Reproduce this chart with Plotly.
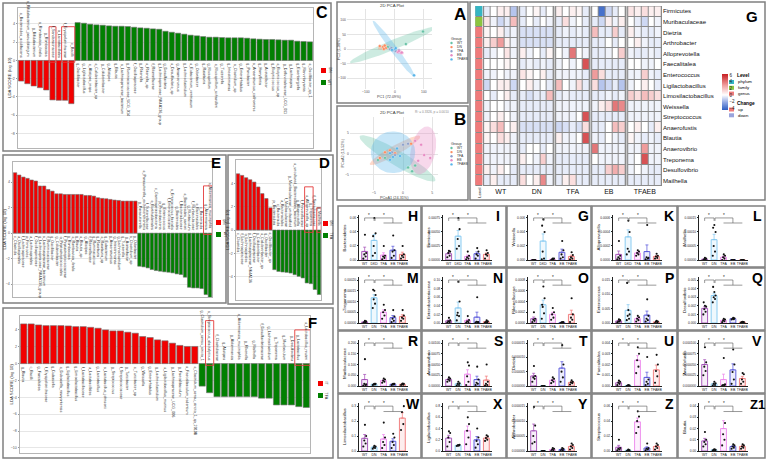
import numpy as np
import plotly.graph_objects as go

W, H = 767, 461
FONT = "Arial"

# ======================= DATA =======================
# ---- LEfSe panel C ----
C_red_vals = [-2.26, -2.55, -2.80, -2.99, -3.24, -4.33, -4.37, -4.37, -4.74]
C_red_labels = ["s_Bacteroides_acidifaciens", "s_Bifidobacterium_pseudolongum", "g_Bifidobacterium",
                "s_Romboutsia_ilealis", "g_Romboutsia", "f_Sandaracinaceae", "o_Lactobacillales",
                "f_Erysipelotrichaceae", "c_Bacilli"]
C_green_vals = [4.15, 4.08, 3.97, 3.90, 3.86, 3.79, 3.75, 3.75, 3.72, 3.64,
                3.57, 3.53, 3.46, 3.42, 3.20, 3.09, 2.99, 2.88, 2.77, 2.70,
                2.62, 2.55, 2.55, 2.51, 2.48, 2.48, 2.48, 2.44, 2.37, 2.33,
                2.30, 2.30, 2.26, 2.22, 2.22, 2.11, 2.08, 2.04]
C_green_labels = ["g_Oscillibacter", "g_Ligilactobacillus", "s_Alistipes_inops", "s_Colidextribacter_sp",
                  "g_Colidextribacter", "g_Alistipes", "g_Blautia", "s_Lachnospiraceae_bacterium",
                  "g_Ruminococcaceae_UCG_014", "f_Oscillospiraceae", "g_Rikenella", "s_Rikenella_sp",
                  "f_Rikenellaceae", "g_Lachnospiraceae_NK4A136_group", "g_Desulfovibrio", "s_Desulfovibrio_sp",
                  "g_Anaerotruncus", "g_Lachnoclostridium", "s_Eubacterium_ventriosum", "g_Odoribacter",
                  "g_Roseburia", "g_Mucispirillum", "s_Mucispirillum_schaedleri", "g_Tuzzerella",
                  "g_Intestinimonas", "s_Clostridium_sp", "g_Enterorhabdus", "g_Parvibacter",
                  "s_Anaerotruncus_colihominis", "g_Harryflintia", "g_Acetatifactor", "g_Butyricicoccus",
                  "s_Butyricicoccus_sp", "g_Defluviitaleaceae_UCG_011", "g_Lachnospira", "g_Eisenbergiella",
                  "g_Marvinbryantia", "s_Oscillibacter_sp_1"]

# ---- LEfSe panel E ----
E_red_vals = [4.73, 4.55, 4.39, 4.29, 4.16, 4.08, 3.69, 3.69, 3.42, 3.29,
              3.08, 3.08, 3.03, 3.03, 3.03, 3.03, 3.03, 2.95, 2.95, 2.90,
              2.77, 2.72, 2.69, 2.64, 2.59, 2.56, 2.51, 2.51, 2.51, 2.51]
E_red_labels = ["c_Clostridia", "o_Oscillospirales", "f_Lachnospiraceae", "p_Firmicutes", "o_Lachnospirales",
                "f_Oscillospiraceae", "g_Lachnospiraceae_NK4A136_group", "s_Lachnospiraceae_bacterium",
                "f_Ruminococcaceae", "g_Oscillibacter", "g_Colidextribacter", "o_Peptostreptococcales",
                "f_Peptostreptococcaceae", "g_Romboutsia", "s_Romboutsia_ilealis", "g_Blautia", "s_Blautia_sp",
                "g_Alistipes", "f_Rikenellaceae", "g_Ruminococcus", "g_Roseburia", "s_Roseburia_sp",
                "g_Eubacterium", "g_Anaerotruncus", "g_Intestinimonas", "g_Lachnoclostridium", "g_Tuzzerella",
                "g_Acetatifactor", "s_Clostridium_sp", "g_Odoribacter"]
E_green_vals = [-2.59, -2.64, -2.72, -2.85, -2.93, -2.98, -3.03, -3.06, -3.11, -3.19,
                -3.24, -3.45, -4.24, -4.29, -4.29, -4.34, -4.81, -5.02]
E_green_labels = ["g_Parasutterella", "s_Parasutterella_excrementihominis", "f_Sutterellaceae",
                  "o_Burkholderiales", "c_Gammaproteobacteria", "p_Proteobacteria", "g_Enterococcus",
                  "f_Enterococcaceae", "s_Enterococcus_faecalis", "g_Bacteroides", "f_Bacteroidaceae",
                  "s_Bacteroides_sartorii", "g_Muribaculum", "f_Muribaculaceae", "o_Bacteroidales",
                  "c_Bacteroidia", "g_Akkermansia", "s_Akkermansia_muciniphila"]

# ---- LEfSe panel D ----
D_red_vals = [4.82, 4.68, 4.48, 4.31, 4.11, 3.69, 3.12, 2.70, 1.90]
D_red_labels = ["c_Clostridia", "f_Lachnospiraceae", "o_Lachnospirales", "g_Lachnospiraceae_NK4A136",
                "f_Oscillospiraceae", "g_Colidextribacter", "s_Colidextribacter_sp", "g_Oscillibacter",
                "s_Oscillibacter_sp"]
D_green_vals = [-3.40, -3.55, -3.60, -3.63, -3.69, -3.83, -3.97, -4.11, -4.54, -4.60, -5.10, -5.53]
D_green_labels = ["p_Bacteroidota", "c_Bacteroidia", "o_Bacteroidales", "f_Muribaculaceae",
                  "g_Muribaculaceae_unclassified", "s_uncultured_Bacteroidales_bacterium", "g_Alloprevotella",
                  "f_Prevotellaceae", "s_Alloprevotella_sp", "g_Treponema", "f_Spirochaetaceae", "g_Mailhella"]

# ---- LEfSe panel F ----
F_red_vals = [4.71, 4.71, 4.59, 4.51, 4.51, 4.51, 4.47, 4.39, 4.39, 4.31,
              4.20, 4.00, 3.88, 3.88, 3.73, 3.61, 3.22, 3.10, 2.82, 2.71,
              2.43, 2.16, 2.04, 2.04]
F_red_labels = ["g_Blautia", "c_Bacilli", "g_Faecalitalea", "f_Erysipelotrichaceae", "g_Dubosiella",
                "s_Dubosiella_newyorkensis", "g_Ligilactobacillus", "g_Limosilactobacillus", "f_Lactobacillaceae",
                "o_Lactobacillales", "g_Lactobacillus", "s_Lactobacillus_johnsonii", "g_Streptococcus",
                "f_Streptococcaceae", "g_Turicibacter", "s_Turicibacter_sp", "g_Weissella", "g_Enterorhabdus",
                "g_Lachnoclostridium", "s_Ligilactobacillus_murinus", "g_Lachnospiraceae_UCG_006",
                "g_Faecalibaculum", "s_Faecalibaculum_rodentium", "s_Clostridium_sensu_stricto_1_sp_2010B"]
F_green_vals = [-2.67, -3.45, -3.92, -3.92, -3.92, -3.92, -3.92, -3.92, -4.10, -4.10,
                -4.90, -4.90, -4.90, -5.10, -5.20]
F_green_labels = ["g_Clostridium_sensu_stricto_1", "s_Streptococcus_alactolyticus", "f_Clostridiaceae",
                  "g_Alistipes", "g_Akkermansia", "s_Akkermansia_muciniphila", "g_Rikenella", "g_Mailhella",
                  "f_Desulfovibrionaceae", "g_Lachnoclostridium", "g_Treponema", "g_Muribaculum",
                  "g_Desulfovibrio", "g_Lactobacillus", "s_Lactobacillus_reuteri"]

# ---- PCA panels ----
PCA_groups = ["WT", "DN", "TFA", "EB", "TFAEB"]
PCA_colors = ["#66C2A5", "#FC8D62", "#8DA0CB", "#E78AC3", "#56B4E9"]
A_x = [[97, 38, -10, -24, 3], [-52, -41, -31, -35, -38], [-17, -7, 3, 14, -12], [10, 21, 14, 24], [66, 0, -10, 3]]
A_y = [[60, 17, 3, 7, -3], [10, 7, 3, 12, 0], [0, -3, -7, -3, 3], [-10, -13, -7, -12], [-90, 0, -3, 3]]
# ellipse: centre, major half-axis vector, minor half-axis vector (data units)
A_ell_c = [(-8.6, 13.3), (-38, 7), (-7, 0), (17, -10), (-3.4, 0)]
A_ell_a = [(146.5, 60), (20.7, 6.7), (17, -6.7), (13.8, -6.7), (72.4, -96.7)]
A_ell_b = [(6.7, -15.3), (2.4, -6.7), (2.8, 6.7), (3.4, 6.7), (9.8, 6.8)]
B_x = [[2.07, 1.55, 0.86, -4.3, -3.1], [1.38, -3.1, -2.24, -1.38, -3.97], [0, 0.86, -1.38, -1.9],
       [3.1, 3.62, 2.59, 4.66, 2.07], [-2.24, -1.72, -0.52, -2.24, -1.03]]
B_y = [[-2.73, -4.09, -3.18, -1.4, -0.9], [2.5, 0.45, 0.91, 0.23, -0.91], [2.27, 2.5, -0.23, 0.45],
       [2.27, -0.23, -1.59, -0.9, 3.18], [0.23, -0.68, -0.45, -1.36, 1.36]]
B_ell_c = [(-0.95, -1.02), (-1.38, 0.9), None, (3.45, 0.9), (-1.72, 0.45)]
B_ell_a = [(6.47, -5.34), (4.31, 3.41), None, (0.86, 5.7), (3.8, 0)]
B_ell_b = [(-0.73, -1.54), (0.44, -0.97), None, (2.07, -0.55), (0, 5.0)]

# ---- Heatmap G ----
HM_rows = ["Firmicutes", "Muribaculaceae", "Dietzia", "Arthrobacter", "Alloprevotella", "Faecalitalea",
           "Enterococcus", "Ligilactobacillus", "Limosilactobacillus", "Weissella", "Streptococcus",
           "Anaerofustis", "Blautia", "Anaerovibrio", "Treponema", "Desulfovibrio", "Mailhella"]
HM_level = ["phylum", "family"] + ["genus"] * 15
HM_groups = ["WT", "DN", "TFA", "EB", "TFAEB"]
HM_values = [
    [-0.5, 0, 0.5, 0.5, -1.5, -0.5, 0, 0.3, -0.5, 0, 0.5, 0, 0.5, 0.3, -0.5, 0, -4, -1, -0.5, 0, 0.8, 0.5, 1, 0.5, 0.5],
    [0.8, -0.3, -1, -0.5, 2, -0.5, 0, -0.5, 0, -0.3, -0.5, 1, -0.3, 0, -0.5, -0.5, -1, 0.5, -0.3, 0.5, 0, -0.5, -1, 0, -0.3],
    [0.3, 0, 0.5, -0.5, -0.3, -0.8, -0.8, -0.8, -0.8, -0.8, -0.5, -0.3, -0.5, -0.3, -0.5, 2, -0.5, -0.5, 1.5, -0.5, 0.5, -0.3, -0.5, -0.5, -0.3],
    [0.5, 1.5, 3, 0.5, -0.3, -0.8, -0.8, -0.8, -0.8, -0.8, -0.5, -0.5, -0.5, -0.5, -0.5, -0.5, -0.5, 0, -0.5, 0, 0, 0.5, -0.3, -0.5, -0.5],
    [-0.5, -0.3, 0, 0.8, -0.3, 0.5, -0.3, 0, -0.5, 0.3, 0, -0.3, 4, 0, -0.3, -0.5, -0.5, -0.3, 0, 1.5, -0.3, -0.5, -0.5, -0.3, -0.5],
    [0, 0, 0, 0.3, 0, -0.5, -0.3, -0.5, -0.3, -0.5, -0.3, 0, -0.3, 0, 5, -0.5, -0.5, -0.5, -0.5, -0.5, 0, 0, -0.3, -0.3, 0],
    [-0.3, -0.3, 0, -0.3, -0.3, 0.8, 0.3, 0, 0.5, -0.5, -0.3, -0.3, -0.3, -0.3, -0.5, 3, 1, -0.5, -0.5, -0.5, -0.3, -0.3, 1.5, -0.3, -0.5],
    [-1, 0, 0.5, 0.5, -1, 0, 0.5, -0.3, 0, -0.5, 2, 0, -0.3, 1, -0.5, 1, -1.5, -1, -0.5, -1.5, -0.3, 0, 0.5, 0, -0.5],
    [0, -0.5, 0, 0.5, -0.5, -0.5, -0.8, -0.5, -0.5, 2, -0.5, -0.3, -0.5, -0.5, -0.5, -0.5, -0.5, -0.3, -0.5, -0.3, 1.5, 1, 2, 1.5, 1],
    [-0.3, 0, 0, -0.3, -0.3, -0.5, -0.5, -0.5, -0.5, -0.5, -0.3, -0.3, -0.3, -0.3, -0.3, -0.3, 0.5, 1, 4, 3.5, -0.3, -0.3, -0.3, -0.3, -0.3],
    [-0.3, 0, 0.5, 0, -0.3, -0.5, -0.5, -0.5, -0.5, -0.5, -0.3, -0.3, -0.3, 0, 5, -0.5, -0.5, -0.5, -0.5, -0.5, -0.3, -0.3, -0.3, -0.3, -0.3],
    [0.3, 1, 2, 0, 0.5, -0.8, -0.8, -0.8, -0.8, -0.8, -1, -0.8, -0.5, -0.8, 1, -0.5, -0.5, 0, 2, 1.5, 0, 0.5, 0, -0.5, 0.5],
    [0.3, 0, 1, 0.5, -0.3, -0.5, -0.5, -0.5, -0.5, -0.5, 0.5, -0.3, -0.3, 0, 5, -0.3, -0.5, 0, -0.3, -0.5, 0.3, -0.3, -0.5, -0.3, -0.5],
    [-0.3, -0.3, -0.3, -0.3, -0.3, -0.5, 0, 0, -0.5, 0, -0.3, -0.3, -0.3, -0.3, -0.3, 4, -0.3, -0.3, -0.3, -0.3, -0.3, -0.3, 3, -0.3, -0.3],
    [-0.3, -0.3, -0.3, -0.3, -0.3, 0.5, 0, -0.3, 1.5, -0.3, -0.5, -0.5, -0.5, -0.5, -0.5, 0, -0.3, -0.3, -0.3, -0.3, -0.3, 0, 5, -0.3, -0.3],
    [0.5, -0.3, 0.5, 0, -0.5, -0.5, -0.5, -0.5, -0.5, -0.5, -0.5, -0.5, -0.5, -0.5, -0.5, -0.5, -0.5, 1.5, 2.5, 1.5, -0.3, 0, -0.3, -0.5, -0.5],
    [-0.5, 0.5, -0.5, -0.5, -0.5, 1, 0, 0.5, 3.5, -0.3, -0.5, 0.5, 1, -0.5, -0.5, -0.5, -0.5, -0.5, -0.5, -0.5, -0.5, -0.5, -0.5, -0.5, -0.5],
]

# ---- small bar panels (points in units of the panel tick step) ----
GROUPS_DKD = ["WT", "DKD", "TFA", "EB", "TFAEB"]
GROUPS_DN = ["WT", "DN", "TFA", "EB", "TFAEB"]
H_pts = [[0.1, 0.25, 0.4, 0.5, 1.8], [0.3, 0.5, 1.0, 1.9, 3.0, 1.7], [0.05, 0.15, 0.25, 0.3, 1.0], [0.15, 0.3, 0.6, 0.7, 1.75], [0.1, 0.2, 0.3, 0.4, 1.0]]
I_pts = [[0.2, 0.3, 0.5, 0.6, 0.65], [0.8, 1.0, 1.5, 2.2, 3.0], [0.05, 0.1, 0.2, 0.3, 0.6], [0.1, 0.3, 0.4, 0.6, 0.85], [0.1, 0.3, 0.4, 0.5, 0.7]]
Gw_pts = [[0, 0, 0, 0, 0], [0.05, 0.1, 0.6, 2.0, 2.9, 2.45], [0, 0, 0.05, 0.1, 0.1], [0.1, 0.2, 0.4, 0.7, 1.35], [0.05, 0.1, 0.2, 0.35, 0.55]]
K_pts = [[0.05, 0.1, 0.2, 0.3, 1.35], [0.4, 0.6, 0.8, 2.0, 2.8, 3.3], [0.3, 0.4, 0.5, 0.6, 0.7], [0.05, 0.1, 0.2, 0.15, 2.5], [0.1, 0.15, 0.25, 0.3, 0.45]]
L_pts = [[0, 0, 0.05, 0.1, 0.15], [0.3, 0.6, 1.0, 2.0, 2.5, 2.3], [0, 0.1, 0.2, 0.3, 0.4], [0, 0, 0, 0, 0], [0, 0, 0, 0, 0]]
M_pts = [[0, 0.05, 0.1, 0.15, 0.2], [1.4, 1.8, 2.2, 2.6, 3.0, 3.1], [0.4, 0.7, 1.0, 1.2, 1.7], [0.1, 0.2, 0.4, 0.6, 1.2], [0.2, 0.4, 0.5, 0.7, 1.2]]
N_pts = [[0.05, 0.1, 0.2, 0.3, 0.6], [0.3, 0.8, 1.2, 2.5, 4.8, 0.9], [0.05, 0.1, 0.2, 0.35, 0.8], [0.05, 0.1, 0.15, 0.1, 3.0], [0.05, 0.1, 0.1, 0.2, 0.3]]
O_pts = [[0.1, 0.2, 0.3, 0.4, 1.0], [0.4, 0.9, 1.5, 2.3, 3.4, 1.7], [0.3, 0.5, 0.8, 1.0, 1.4], [0, 0, 0.05, 0.1, 0.1], [0.1, 0.3, 0.5, 0.8, 2.3]]
P_pts = [[0.05, 0.1, 0.1, 0.2, 0.25], [0.2, 0.3, 0.5, 0.6, 0.9, 2.8], [0.1, 0.2, 0.3, 0.4, 0.5], [0.1, 0.2, 0.3, 0.5, 1.65], [0, 0.05, 0.1, 0.1, 0.15]]
Q_pts = [[1.0, 1.3, 1.6, 1.9, 2.0, 2.4], [2.4, 2.8, 3.0, 3.2, 3.6, 4.2], [0.1, 0.2, 0.3, 0.4, 0.5], [0.4, 0.45, 0.5, 0.55, 0.6], [0.05, 0.1, 0.1, 0.1, 0.15]]
R_pts = [[0.05, 0.1, 0.2, 0.15, 2.5], [0.1, 0.15, 0.15, 0.2, 0.2], [0.3, 0.4, 0.5, 0.6, 0.7], [0.1, 0.15, 0.15, 0.2, 0.2], [0.1, 0.12, 0.16, 0.2, 0.22]]
S_pts = [[0.4, 0.5, 0.6, 0.7, 0.8], [0.05, 0.1, 0.2, 0.25, 0.4], [0.1, 0.4, 0.9, 1.9, 2.2], [0.1, 0.2, 0.3, 0.6, 1.8], [0.05, 0.1, 0.2, 0.4, 2.0]]
T_pts = [[0.3, 0.5, 0.6, 0.7, 1.4], [0, 0, 0, 0, 0], [0.2, 0.3, 0.4, 0.5, 0.6], [0.3, 0.6, 1.0, 1.5, 2.85], [0.1, 0.2, 0.25, 0.3, 0.4]]
U_pts = [[0.1, 0.2, 0.3, 0.4, 0.5], [0, 0.05, 0.05, 0.05, 0.1], [1.2, 1.8, 2.4, 3.0, 3.6], [0.1, 0.2, 0.4, 0.6, 2.7], [0.3, 0.9, 1.4, 2.0, 2.9]]
V_pts = [[1.0, 1.4, 1.8, 2.2, 3.6], [0.05, 0.1, 0.2, 0.25, 0.4], [0.05, 0.1, 0.1, 0.15, 2.6], [0.2, 0.6, 1.3, 2.0, 3.4], [0.2, 0.4, 0.6, 1.1, 1.2]]
Wl_pts = [[0.3, 0.5, 0.7, 1.0, 1.75], [0.15, 0.2, 0.25, 0.3, 0.35], [0.2, 0.4, 0.6, 0.9, 1.9], [0.2, 0.4, 0.6, 0.9, 1.15], [1.4, 1.8, 2.6, 3.0]]
X_pts = [[0.4, 0.8, 1.2, 1.6, 1.75], [0.45, 0.5, 0.5, 0.55, 0.5], [0.6, 1.2, 1.8, 2.4, 3.0], [0.3, 0.6, 0.9, 1.2, 2.0], [0.9, 1.0, 1.15, 1.3, 1.4]]
Y_pts = [[0.5, 0.6, 1.0, 1.7, 2.95], [0, 0, 0, 0, 0], [0, 0.05, 0.1, 0.15, 0.2], [0, 0.05, 0.1, 0.15, 0.2], [0.1, 0.2, 0.3, 0.4, 0.5]]
Z_pts = [[0.05, 0.1, 0.15, 0.2, 0.75], [0, 0.05, 0.05, 0.05, 0.1], [1.2, 1.6, 2.0, 2.3, 2.65], [0.05, 0.1, 0.15, 0.2, 0.5], [0.1, 0.2, 0.3, 0.4, 0.5]]
Z1_pts = [[0.4, 0.6, 0.8, 1.0, 1.7], [0.05, 0.1, 0.1, 0.1, 0.15], [0.5, 1.0, 1.5, 2.5, 4.5], [0.2, 0.3, 0.4, 0.5, 0.6], [0.2, 0.3, 0.4, 0.5, 0.6]]

# (letter, y label, x labels, tick step, n ticks, decimals, points) in grid order
SMALL = [
    ("H", "Bacteroidetes", GROUPS_DKD, 0.02, 3, 2, H_pts),
    ("I", "Firmicutes", GROUPS_DKD, 0.00025, 3, 5, I_pts),
    ("G", "Weissella", GROUPS_DKD, 0.002, 3, 3, Gw_pts),
    ("K", "Alloprevotella", GROUPS_DKD, 0.0002, 3, 4, K_pts),
    ("L", "Mailhella", GROUPS_DN, 0.00005, 3, 5, L_pts),
    ("M", "Treponema", GROUPS_DN, 0.00005, 4, 5, M_pts),
    ("N", "Enterobacteriaceae", GROUPS_DN, 0.02, 5, 2, N_pts),
    ("O", "Rikenellaceae", GROUPS_DN, 0.0002, 4, 4, O_pts),
    ("P", "Enterococcus", GROUPS_DN, 0.005, 3, 3, P_pts),
    ("Q", "Desulfovibrio", GROUPS_DN, 0.001, 5, 3, Q_pts),
    ("R", "Muribaculaceae", GROUPS_DN, 0.05, 4, 3, R_pts),
    ("S", "Anaerovibrio", GROUPS_DN, 0.00025, 4, 5, S_pts),
    ("T", "Dietzia", GROUPS_DN, 0.000005, 3, 6, T_pts),
    ("U", "Faecalitalea", GROUPS_DN, 0.001, 4, 3, U_pts),
    ("V", "Anaerofustis", GROUPS_DN, 0.000025, 4, 6, V_pts),
    ("W", "Limosilactobacillus", GROUPS_DN, 0.1, 3, 1, Wl_pts),
    ("X", "Ligilactobacillus", GROUPS_DN, 0.2, 4, 1, X_pts),
    ("Y", "Arthrobacter", GROUPS_DN, 0.000005, 3, 6, Y_pts),
    ("Z", "Streptococcus", GROUPS_DN, 0.02, 3, 2, Z_pts),
    ("Z1", "Blautia", GROUPS_DN, 0.01, 4, 2, Z1_pts),
]
BAR_EDGE = ["#A24BB6", "#7EC6F0", "#EC84EC", "#5150DA", "#F07474"]
BAR_FILL = ["rgba(162,75,182,0.10)", "rgba(126,198,240,0.12)", "rgba(236,132,236,0.12)",
            "rgba(81,80,218,0.10)", "rgba(240,116,116,0.12)"]

# ======================= BUILD =======================
fig = go.Figure()
axes = {}
shapes = []
annots = []
_n = [0]


def add_axes(px0, px1, py0, py1):
    _n[0] += 1
    s = '' if _n[0] == 1 else str(_n[0])
    axes['xaxis' + s] = dict(domain=[px0 / W, px1 / W], anchor='y' + s)
    axes['yaxis' + s] = dict(domain=[1 - py1 / H, 1 - py0 / H], anchor='x' + s)
    return 'x' + s, 'y' + s, 'xaxis' + s, 'yaxis' + s


def rect_px(x0, y0, x1, y1, line='#808080', width=1.5, fill='rgba(0,0,0,0)'):
    shapes.append(dict(type='rect', xref='paper', yref='paper', x0=x0 / W, x1=x1 / W,
                       y0=1 - y1 / H, y1=1 - y0 / H, line=dict(color=line, width=width), fillcolor=fill))


def txt(px, py, s, size, color='#000', xanchor='center', yanchor='middle', angle=0, bold=False):
    annots.append(dict(xref='paper', yref='paper', x=px / W, y=1 - py / H,
                       text=('<b>%s</b>' % s) if bold else s, showarrow=False,
                       xanchor=xanchor, yanchor=yanchor, textangle=angle,
                       font=dict(size=size, family=FONT, color=color)))


def lefse(plot_box, red_vals, red_labels, green_vals, green_labels, yrange, yticks, highlights,
          legend_xy, legend_txt):
    px0, py0, px1, py1 = plot_box
    xr, yr, xa, ya = add_axes(px0, px1, py0, py1)
    vals = list(red_vals) + list(green_vals)
    labels = list(red_labels) + list(green_labels)
    colors = ['#F20000'] * len(red_vals) + ['#018001'] * len(green_vals)
    idx = list(range(len(vals)))
    fig.add_trace(go.Bar(x=idx, y=vals, width=0.84,
                         marker=dict(color=colors, line=dict(color='#707070', width=0.6)),
                         xaxis=xr, yaxis=yr, showlegend=False, hoverinfo='skip'))
    for i, (v, lab) in enumerate(zip(vals, labels)):
        annots.append(dict(xref=xr, yref=yr, x=i, y=0, text=lab, textangle=90, showarrow=False,
                           xanchor='center', yanchor='top' if v > 0 else 'bottom',
                           yshift=-1 if v > 0 else 1,
                           font=dict(size=3.7, family=FONT, color='#2a2a2a')))
    axes[xa].update(range=[-0.5, len(vals) - 0.5], showticklabels=False, ticks='', showgrid=False,
                    zeroline=False, showline=True, mirror=True, linecolor='#b5b5b5', linewidth=0.8)
    axes[ya].update(range=yrange, tickvals=yticks, tickfont=dict(size=3.6, color='#555', family=FONT),
                    showgrid=True, gridcolor='#e6e6e6', gridwidth=0.6, zeroline=True,
                    zerolinecolor='#d0d0d0', zerolinewidth=0.6, showline=True, mirror=True,
                    linecolor='#b5b5b5', linewidth=0.8, ticks='outside', ticklen=1.5, tickcolor='#999',
                    tickwidth=0.5)
    for (i0, i1, ylo, yhi) in highlights:
        shapes.append(dict(type='rect', xref=xr, yref=yr, x0=i0 - 0.55, x1=i1 + 0.55, y0=ylo, y1=yhi,
                           line=dict(color='#E43A3A', width=0.9), fillcolor='rgba(0,0,0,0)'))
    txt(px0 - 9, (py0 + py1) / 2, "LDA SCORE (log 10)", 4.3, angle=-90, color='#333')
    lx, ly = legend_xy
    rect_px(lx, ly, lx + 5, ly + 5, line='#F20000', width=0, fill='#F20000')
    rect_px(lx, ly + 12, lx + 5, ly + 17, line='#018001', width=0, fill='#018001')
    txt(lx + 8, ly + 2.5, legend_txt[0], 3.6, angle=90, color='#333')
    txt(lx + 8, ly + 14.5, legend_txt[1], 3.6, angle=90, color='#333')


# ---------- frames of the big panels ----------
rect_px(3, 3, 331, 151)      # C
rect_px(3, 155, 226, 303)    # E
rect_px(228, 155, 333, 304)  # D
rect_px(3, 308, 333, 458)    # F
rect_px(337, 2, 468, 103)    # A
rect_px(337, 106, 468, 200)  # B
rect_px(470, 2, 765, 200)    # G

lefse((18, 8, 313, 148), C_red_vals, C_red_labels, C_green_vals, C_green_labels,
      [-9.6, 5.75], [-8, -6, -4, -2, 0, 2, 4], [(5, 5, -0.2, 3.7), (7, 8, -0.2, 3.7)],
      (321, 68), ["DN", "WT"])
lefse((13, 162, 212, 297), E_red_vals, E_red_labels, E_green_vals, E_green_labels,
      [-5.0, 5.57], [-4, -2, 0, 2, 4], [(46, 47, -0.1, 3.7)],
      (216, 220), ["DN", "WT"])
lefse((236, 160, 321, 300), D_red_vals, D_red_labels, D_green_vals, D_green_labels,
      [-6.0, 6.0], [-4, -2, 0, 2, 4], [(17, 18, -0.2, 3.7), (20, 20, -0.2, 1.9)],
      (323, 221), ["DN", "TFA"])
lefse((20, 316, 310, 453), F_red_vals, F_red_labels, F_green_vals, F_green_labels,
      [-10.6, 5.65], [-10, -8, -6, -4, -2, 0, 2, 4], [(25, 25, -0.2, 5.1), (37, 38, -0.2, 4.0)],
      (318, 381), ["IT", "TFA"])

txt(322, 13, "C", 16, bold=True)
txt(216, 163, "E", 15, bold=True)
txt(324, 163, "D", 15, bold=True)
txt(312, 322, "F", 15, bold=True)


# ---------- PCA panels ----------
def ellipse_xy(c, a, b, n=80):
    t = np.linspace(0, 2 * np.pi, n)
    return (c[0] + a[0] * np.cos(t) + b[0] * np.sin(t), c[1] + a[1] * np.cos(t) + b[1] * np.sin(t))


def hex_rgba(h, a):
    h = h.lstrip('#')
    return 'rgba(%d,%d,%d,%.2f)' % (int(h[0:2], 16), int(h[2:4], 16), int(h[4:6], 16), a)


def pca_panel(box, xs, ys, ec, ea, eb, xrange_, yrange_, xticks, yticks, xtitle, ytitle):
    px0, py0, px1, py1 = box
    xr, yr, xa, ya = add_axes(px0, px1, py0, py1)
    for g in range(5):
        if ec[g] is None:
            continue
        ex, ey = ellipse_xy(ec[g], ea[g], eb[g])
        fig.add_trace(go.Scatter(x=ex, y=ey, mode='lines', fill='toself', line=dict(width=0),
                                 fillcolor=hex_rgba(PCA_colors[g], 0.33), xaxis=xr, yaxis=yr,
                                 showlegend=False, hoverinfo='skip'))
    for g in range(5):
        fig.add_trace(go.Scatter(x=xs[g], y=ys[g], mode='markers',
                                 marker=dict(size=3, color=PCA_colors[g], line=dict(width=0.3, color='white')),
                                 xaxis=xr, yaxis=yr, showlegend=False, hoverinfo='skip'))
    common = dict(showgrid=True, gridcolor='#e4e4e4', gridwidth=0.6, zeroline=False, showline=False,
                  ticks='', tickfont=dict(size=3.4, color='#555', family=FONT))
    axes[xa].update(range=xrange_, tickvals=xticks, **common)
    axes[ya].update(range=yrange_, tickvals=yticks, **common)
    txt((px0 + px1) / 2, py1 + 8, xtitle, 3.8, color='#444')
    txt(px0 - 8, (py0 + py1) / 2, ytitle, 3.8, color='#444', angle=-90)


pca_panel((347, 9, 432, 89), A_x, A_y, A_ell_c, A_ell_a, A_ell_b, [-165, 128], [-137, 137],
          [-100, 0, 100], [-100, -50, 0, 50, 100], "PC1 (72.09%)", "PC2 (1.08%)")
pca_panel((350, 117, 438, 190), B_x, B_y, B_ell_c, B_ell_a, B_ell_b, [-9.1, 6.0], [-8.6, 8.9],
          [-5, 0, 5], [-5, 0, 5], "PCoA1 (24.31%)", "PCoA2 (13.52%)")
txt(392, 6, "2D PCA Plot", 4.3, color='#333')
txt(392, 112, "2D PCA Plot", 4.3, color='#333')
txt(432, 112, "R² = 0.3326, p = 0.0010", 3.2, color='#888')
for (gy, title_y) in [(43, 39), (148, 144)]:
    txt(449, title_y, "Group", 3.8, xanchor='left', color='#333')
    for g, name in enumerate(PCA_groups):
        yy = gy + g * 4.1
        shapes.append(dict(type='circle', xref='paper', yref='paper', x0=450.3 / W, x1=452.7 / W,
                           y0=1 - (yy + 1.2) / H, y1=1 - (yy - 1.2) / H,
                           line=dict(width=0), fillcolor=PCA_colors[g]))
        txt(455, yy, name, 3.4, xanchor='left', color='#333')
txt(460, 14, "A", 17, bold=True)
txt(460, 119, "B", 17, bold=True)

# ---------- Heatmap G ----------
ZMIN, ZMAX = -4.6, 6.4
wpos = (0 - ZMIN) / (ZMAX - ZMIN)
CS = [[0, '#2E5EC2'], [wpos * 0.5, '#8FA6E3'], [wpos, '#FFFFFF'],
      [wpos + (1 - wpos) * 0.45, '#F0A0A0'], [1, '#C71E22']]
xg, yg, xga, yga = add_axes(475, 662, 6, 186)
GAP = 0.25
nrow = len(HM_rows)
for g in range(5):
    zz = [row[g * 5:(g + 1) * 5] for row in HM_values]
    xs = [g * (5 + GAP) + j for j in range(5)]
    fig.add_trace(go.Heatmap(
        z=zz, x=xs, y=list(range(nrow)), zmin=ZMIN, zmax=ZMAX, colorscale=CS, xgap=1, ygap=1,
        showscale=(g == 0), hoverinfo='skip', xaxis=xg, yaxis=yg,
        colorbar=dict(x=722 / W, xanchor='left', y=1 - 92 / H, yanchor='middle', len=36 / H,
                      lenmode='fraction', thickness=6, thicknessmode='pixels',
                      tickvals=[-4, -2, 0, 2, 4, 6], ticks='', outlinewidth=0, xpad=0, ypad=0,
                      tickfont=dict(size=4.5, family=FONT, color='#222'))))
    shapes.append(dict(type='rect', xref=xg, yref=yg, x0=xs[0] - 0.5, x1=xs[-1] + 0.5, y0=-0.5,
                       y1=nrow - 0.5, line=dict(width=0), fillcolor='#8a8a8a', layer='below'))
    shapes.append(dict(type='rect', xref=xg, yref=yg, x0=xs[0] - 0.5, x1=xs[-1] + 0.5, y0=-0.5,
                       y1=nrow - 0.5, line=dict(width=1.1, color='#8a8a8a'), fillcolor='rgba(0,0,0,0)'))
LEVEL_NAMES = ["phylum", "family", "genus"]
LEVEL_COLS = ["#35B5C3", "#8CC43F", "#F07A7A"]
lev_code = [[LEVEL_NAMES.index(l)] for l in HM_level]
fig.add_trace(go.Heatmap(z=lev_code, x=[-1.2], y=list(range(nrow)), zmin=0, zmax=2, showscale=False,
                         colorscale=[[0, LEVEL_COLS[0]], [0.25, LEVEL_COLS[0]], [0.25, LEVEL_COLS[1]],
                                     [0.75, LEVEL_COLS[1]], [0.75, LEVEL_COLS[2]], [1, LEVEL_COLS[2]]],
                         xgap=0, ygap=1, hoverinfo='skip', xaxis=xg, yaxis=yg))
shapes.append(dict(type='rect', xref=xg, yref=yg, x0=-1.7, x1=-0.7, y0=-0.5, y1=nrow - 0.5,
                   line=dict(width=0), fillcolor='#8a8a8a', layer='below'))
axes[xga].update(range=[-1.75, 4 * (5 + GAP) + 4.5], tickvals=[g * (5 + GAP) + 2 for g in range(5)],
                 ticktext=HM_groups, ticks='', showgrid=False, zeroline=False, showline=False,
                 tickfont=dict(size=7, family=FONT, color='#111'))
axes[yga].update(range=[nrow - 0.5, -0.5], tickvals=list(range(nrow)), ticktext=HM_rows, side='right',
                 ticks='', showgrid=False, zeroline=False, showline=False,
                 tickfont=dict(size=6.1, family=FONT, color='#111'))
annots.append(dict(xref=xg, yref='paper', x=-1.2, y=1 - 193 / H, text="Level", textangle=-90,
                   showarrow=False, font=dict(size=4.3, family=FONT, color='#222')))
txt(735, 76, "Level", 4.8, xanchor='left', bold=True)
for k, (nm, col) in enumerate(zip(LEVEL_NAMES, LEVEL_COLS)):
    yy = 82 + k * 5.8
    rect_px(729, yy - 2, 734, yy + 2, line=col, width=0, fill=col)
    txt(736, yy, nm, 4.3, xanchor='left')
txt(735, 103.5, "Change", 4.8, xanchor='left', bold=True)
for k, (nm, col) in enumerate(zip(["up", "down"], ["#F07A7A", "#9AA4DC"])):
    yy = 109.5 + k * 5.8
    rect_px(729, yy - 2, 734, yy + 2, line=col, width=0, fill=col)
    txt(736, yy, nm, 4.3, xanchor='left')
txt(752, 16, "G", 15, bold=True)

# ---------- small bar panels ----------
COLS_X = [(338, 421), (422, 506), (507, 591), (592, 677), (678, 765)]
ROWS_Y = [(206, 267), (268, 330), (331, 393), (394, 458)]
JIT = [-0.14, 0.1, -0.04, 0.16, 0.03, -0.1, 0.07]

for k, (letter, ylab, xlabs, unit, nt, dec, pts) in enumerate(SMALL):
    bx0, bx1 = COLS_X[k % 5]
    by0, by1 = ROWS_Y[k // 5]
    rect_px(bx0, by0, bx1, by1, width=1.5)
    xr, yr, xa, ya = add_axes(bx0 + 21, bx0 + 70, by0 + 9, by1 - 7)
    top = nt * unit
    px_, py_ = [], []
    for g in range(5):
        arr = np.array(pts[g], dtype=float) * unit
        m = arr.mean()
        sem = arr.std(ddof=1) / np.sqrt(len(arr)) if len(arr) > 1 else 0.0
        fig.add_trace(go.Bar(x=[g], y=[m], width=0.62,
                             marker=dict(color=BAR_FILL[g], line=dict(color=BAR_EDGE[g], width=0.9)),
                             error_y=dict(type='data', array=[sem], arrayminus=[0], symmetric=False,
                                          color=BAR_EDGE[g], thickness=0.7, width=1.5),
                             xaxis=xr, yaxis=yr, showlegend=False, hoverinfo='skip'))
        for j, v in enumerate(arr):
            px_.append(g + JIT[j % len(JIT)])
            py_.append(v)
    fig.add_trace(go.Scatter(x=px_, y=py_, mode='markers', marker=dict(size=2.1, color='#111'),
                             cliponaxis=False, xaxis=xr, yaxis=yr, showlegend=False, hoverinfo='skip'))
    axes[xa].update(range=[-0.6, 4.6], tickvals=list(range(5)), ticktext=xlabs, ticks='',
                    showgrid=False, zeroline=False, showline=True, linecolor='#222', linewidth=0.7,
                    tickfont=dict(size=3.5, family=FONT, color='#222'), tickangle=0)
    tv = [i * unit for i in range(nt + 1)]
    axes[ya].update(range=[0, top * 1.07], tickvals=tv, ticktext=[f"{v:.{dec}f}" for v in tv],
                    ticks='outside', ticklen=1.5, tickwidth=0.5, tickcolor='#222', showgrid=False,
                    zeroline=False, showline=True, linecolor='#222', linewidth=0.7,
                    tickfont=dict(size=3.2, family=FONT, color='#222'))
    hb, d, hs = top * 1.0, top * 0.07, top * 0.88
    bl = dict(color='#555', width=0.6)
    shapes.append(dict(type='path', xref=xr, yref=yr, line=bl,
                       path=f"M 0,{hb - d} L 0,{hb} L 1,{hb} L 1,{hb - d}"))
    shapes.append(dict(type='path', xref=xr, yref=yr, line=bl,
                       path=f"M 1.1,{hb - d} L 1.1,{hb} L 3,{hb} L 3,{hs}"))
    shapes.append(dict(type='line', xref=xr, yref=yr, line=bl, x0=2, x1=4, y0=hs, y1=hs))
    for sx in (0.5, 2.05):
        annots.append(dict(xref=xr, yref=yr, x=sx, y=hb, text="*", showarrow=False, yanchor='bottom',
                           yshift=-2, font=dict(size=4.5, family=FONT, color='#222')))
    txt(bx0 + 6, (by0 + 9 + by1 - 7) / 2, ylab, 4.4, angle=-90, color='#111')
    txt(bx1 - 8, by0 + 10, letter, 14 if len(letter) == 1 else 13, bold=True)

fig.update_layout(width=W, height=H, margin=dict(l=0, r=0, t=0, b=0), template='none',
                  paper_bgcolor='white', plot_bgcolor='white', showlegend=False, barmode='overlay',
                  shapes=shapes, annotations=annots, font=dict(family=FONT), **axes)
fig.write_html("out.html")
